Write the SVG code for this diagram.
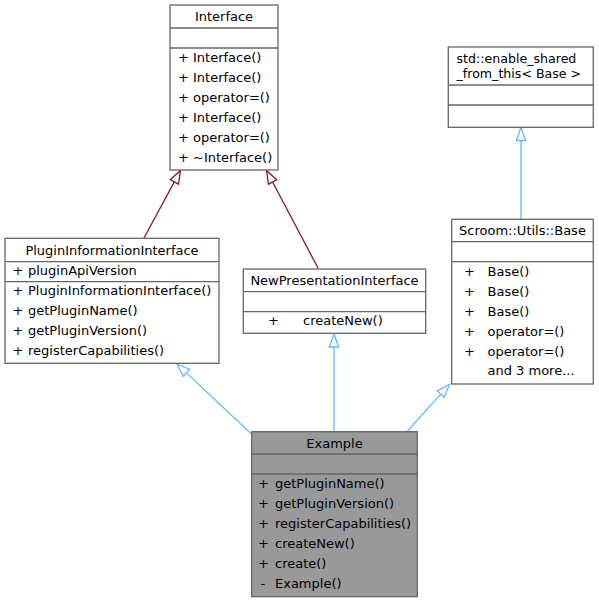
<svg xmlns="http://www.w3.org/2000/svg" width="599" height="603" viewBox="0 0 599 603">
<style>
.box{fill:#ffffff;stroke:#666666;stroke-width:1.3}
.grey{fill:#999999}
.sep{stroke:#666666;stroke-width:1.3}
text{font-family:"DejaVu Sans","Liberation Sans",sans-serif;font-size:13px;fill:#000000}
.c{text-anchor:middle}
.red{stroke:#8b1a1a;stroke-width:1.3;fill:none}
.redh{stroke:#8b1a1a;stroke-width:1.3;fill:#ffffff}
.blue{stroke:#63b8ff;stroke-width:1.3;fill:none}
.blueh{stroke:#63b8ff;stroke-width:1.3;fill:#ffffff}
</style>
<rect width="599" height="603" fill="#ffffff"/>
<g id="connectors">
<line class="red" x1="144" y1="238" x2="174.32" y2="181.93"/>
<polygon class="redh" points="178.45,184.17 180.5,170.5 170.19,179.69"/>
<line class="red" x1="318" y1="268" x2="272.57" y2="181.99"/>
<polygon class="redh" points="276.73,179.8 266.5,170.5 268.41,184.18"/>
<line class="blue" x1="251.5" y1="434" x2="186.47" y2="372.9"/>
<polygon class="blueh" points="189.69,369.47 177,364 183.25,376.33"/>
<line class="blue" x1="334" y1="432" x2="334" y2="347"/>
<polygon class="blueh" points="338.7,347 334,334 329.3,347"/>
<line class="blue" x1="407" y1="431.5" x2="440.78" y2="394.14"/>
<polygon class="blueh" points="444.27,397.29 449.5,384.5 437.29,390.99"/>
<line class="blue" x1="521" y1="219" x2="521" y2="140.5"/>
<polygon class="blueh" points="525.7,140.5 521,127.5 516.3,140.5"/>
</g>
<g id="Interface">
<rect class="box" x="170" y="5" width="108" height="165"/>
<line class="sep" x1="170" y1="28" x2="278" y2="28"/>
<line class="sep" x1="170" y1="48" x2="278" y2="48"/>
<text class="c" x="224" y="21">Interface</text>
<text x="178" y="61.5">+</text><text x="193" y="61.5">Interface()</text>
<text x="178" y="81.5">+</text><text x="193" y="81.5">Interface()</text>
<text x="178" y="101.5">+</text><text x="193" y="101.5">operator=()</text>
<text x="178" y="121.5">+</text><text x="193" y="121.5">Interface()</text>
<text x="178" y="141.5">+</text><text x="193" y="141.5">operator=()</text>
<text x="178" y="161.5">+</text><text x="193" y="161.5">~Interface()</text>
</g>
<g id="PluginInformationInterface">
<rect class="box" x="5" y="238.3" width="214" height="125"/>
<line class="sep" x1="5" y1="261.7" x2="219" y2="261.7"/>
<line class="sep" x1="5" y1="281.7" x2="219" y2="281.7"/>
<text class="c" x="112" y="254.5">PluginInformationInterface</text>
<text x="12.5" y="275">+</text><text x="28" y="275">pluginApiVersion</text>
<text x="12.5" y="295">+</text><text x="28" y="295">PluginInformationInterface()</text>
<text x="12.5" y="315">+</text><text x="28" y="315">getPluginName()</text>
<text x="12.5" y="335">+</text><text x="28" y="335">getPluginVersion()</text>
<text x="12.5" y="355">+</text><text x="28" y="355">registerCapabilities()</text>
</g>
<g id="NewPresentationInterface">
<rect class="box" x="243.3" y="269" width="182.4" height="64.3"/>
<line class="sep" x1="243.3" y1="291.7" x2="425.7" y2="291.7"/>
<line class="sep" x1="243.3" y1="311.7" x2="425.7" y2="311.7"/>
<text class="c" x="334.5" y="285">NewPresentationInterface</text>
<text x="268" y="325">+</text><text x="303" y="325">createNew()</text>
</g>
<g id="enable_shared_from_this">
<rect class="box" x="448.3" y="47" width="145" height="80.3"/>
<line class="sep" x1="448.3" y1="85" x2="593.3" y2="85"/>
<line class="sep" x1="448.3" y1="105" x2="593.3" y2="105"/>
<text x="456.5" y="63.2" style="font-size:12.6px">std::enable_shared</text>
<text x="456.5" y="78.2" style="font-size:12.6px">_from_this&lt; Base &gt;</text>
</g>
<g id="Base">
<rect class="box" x="451.7" y="219.3" width="141.6" height="164.7"/>
<line class="sep" x1="451.7" y1="241.7" x2="593.3" y2="241.7"/>
<line class="sep" x1="451.7" y1="261.7" x2="593.3" y2="261.7"/>
<text class="c" x="522.5" y="235">Scroom::Utils::Base</text>
<text x="464" y="276">+</text><text x="487.5" y="276">Base()</text>
<text x="464" y="296">+</text><text x="487.5" y="296">Base()</text>
<text x="464" y="316">+</text><text x="487.5" y="316">Base()</text>
<text x="464" y="336">+</text><text x="487.5" y="336">operator=()</text>
<text x="464" y="356">+</text><text x="487.5" y="356">operator=()</text>
<text x="487.5" y="375">and 3 more...</text>
</g>
<g id="Example">
<rect class="box grey" x="251.7" y="431.7" width="165.6" height="165"/>
<line class="sep" x1="251.7" y1="454" x2="417.3" y2="454"/>
<line class="sep" x1="251.7" y1="474" x2="417.3" y2="474"/>
<text class="c" x="334.5" y="448">Example</text>
<text x="258" y="488">+</text><text x="275" y="488">getPluginName()</text>
<text x="258" y="508">+</text><text x="275" y="508">getPluginVersion()</text>
<text x="258" y="528">+</text><text x="275" y="528">registerCapabilities()</text>
<text x="258" y="548">+</text><text x="275" y="548">createNew()</text>
<text x="258" y="568">+</text><text x="275" y="568">create()</text>
<text x="260.5" y="588">-</text><text x="275" y="588">Example()</text>
</g>
</svg>
